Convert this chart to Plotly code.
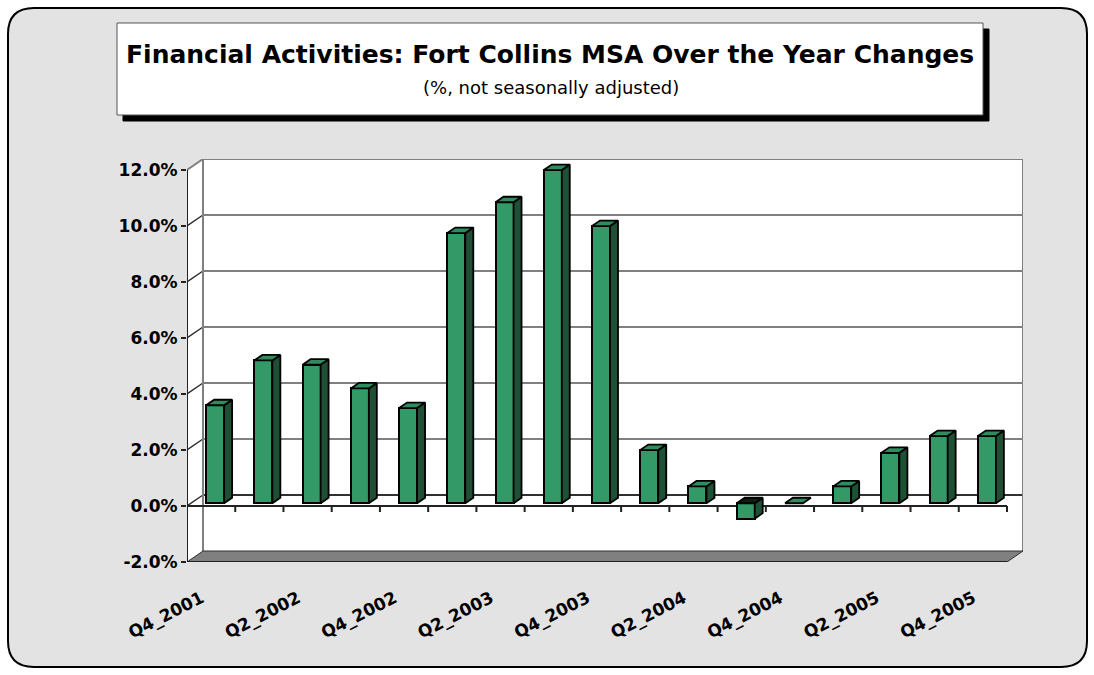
import plotly.graph_objects as go

# Over-the-year change, financial activities employment, Fort Collins MSA
quarters = [
    "Q4_2001", "Q1_2002", "Q2_2002", "Q3_2002", "Q4_2002",
    "Q1_2003", "Q2_2003", "Q3_2003", "Q4_2003",
    "Q1_2004", "Q2_2004", "Q3_2004", "Q4_2004",
    "Q1_2005", "Q2_2005", "Q3_2005", "Q4_2005",
]
pct_change = [3.5, 5.1, 4.95, 4.1, 3.4, 9.65, 10.75, 11.9, 9.9,
              1.9, 0.6, -0.55, 0.0, 0.6, 1.8, 2.4, 2.4]
y_ticks = [-2, 0, 2, 4, 6, 8, 10, 12]
x_labels = quarters[::2]

TITLE = "Financial Activities: Fort Collins MSA Over the Year Changes"
SUBTITLE = "(%, not seasonally adjusted)"

FONT = "DejaVu Sans"
W, H = 1094, 675

# ---- pseudo-3D frame geometry -------------------------------------------
n = len(quarters)
front_w_px = 820.0           # width of the front axis
px_per_cat = front_w_px / n
px_per_pct = 28.0
DX = 16.0 / px_per_cat       # depth of the walls, category units
DY = 11.0 / px_per_pct       # depth of the walls, percent units
x0, x1 = -0.5, n - 0.5       # front axis extent
ymin, ymax = y_ticks[0], y_ticks[-1]

L = 187
T = 159
plot_w = front_w_px + 16
plot_h = (ymax + DY - ymin) * px_per_pct
R = W - L - plot_w
B = H - T - plot_h

# bar placement inside the depth of the box
BAR_W = 18.0 / px_per_cat
D0 = 0.25                    # depth of the front face (fraction of wall depth)
DB = 0.5                     # bar thickness (fraction of wall depth)
bdx, bdy = DB * DX, DB * DY
fx, fy = D0 * DX, D0 * DY

FRONT = "#339966"
SIDE = "#1F4F35"
TOP = "#2F8C5E"
TOP_NEG = "#0B1F14"
GRID = "#808080"
DARK = "#303030"


def px_to_paper(px, py):
    return (px - L) / plot_w, (H - B - py) / plot_h


def poly(points):
    return "M " + " L ".join(f"{x:.4f},{y:.4f}" for x, y in points) + " Z"


def segs(pairs):
    return " ".join(f"M {a:.4f},{b:.4f} L {c:.4f},{d:.4f}" for (a, b), (c, d) in pairs)


shapes = []

# rounded card behind the whole chart
bx0, by0, bx1, by1, rad = 8, 8, 1087, 667, 26
pts = [
    ("M", bx0 + rad, by0), ("L", bx1 - rad, by0), ("Q", bx1, by0, bx1, by0 + rad),
    ("L", bx1, by1 - rad), ("Q", bx1, by1, bx1 - rad, by1),
    ("L", bx0 + rad, by1), ("Q", bx0, by1, bx0, by1 - rad),
    ("L", bx0, by0 + rad), ("Q", bx0, by0, bx0 + rad, by0),
]
path = []
for p in pts:
    cmd = p[0]
    coords = p[1:]
    conv = []
    for k in range(0, len(coords), 2):
        a, b = px_to_paper(coords[k], coords[k + 1])
        conv.append(f"{a:.5f},{b:.5f}")
    path.append(cmd + " " + " ".join(conv))
shapes.append(dict(type="path", xref="paper", yref="paper", layer="below",
                   path=" ".join(path) + " Z", fillcolor="#E3E3E3",
                   line=dict(color="#000000", width=2)))

# title box with drop shadow
tx0, ty0, tx1, ty1 = 117, 23, 983, 115
for off, fill, lc in ((6, "#000000", "#000000"), (0, "#FFFFFF", "#555555")):
    ax, ay = px_to_paper(tx0 + off, ty1 + off)
    bx, by = px_to_paper(tx1 + off, ty0 + off)
    shapes.append(dict(type="rect", xref="paper", yref="paper", layer="below",
                       x0=ax, y0=ay, x1=bx, y1=by, fillcolor=fill,
                       line=dict(color=lc, width=1)))

# white interior of the box (side wall + back wall)
shapes.append(dict(type="path", xref="x", yref="y", layer="below",
                   path=poly([(x0, ymin), (x0, ymax), (x0 + DX, ymax + DY),
                              (x1 + DX, ymax + DY), (x1 + DX, ymin + DY), (x1, ymin)]),
                   fillcolor="#FFFFFF", line=dict(width=0)))

# back-wall gridlines and side-wall diagonals
grid_pairs = [((x0 + DX, v + DY), (x1 + DX, v + DY)) for v in y_ticks if 0 < v < ymax]
shapes.append(dict(type="path", xref="x", yref="y", layer="below",
                   path=segs(grid_pairs), line=dict(color=GRID, width=2)))
shapes.append(dict(type="path", xref="x", yref="y", layer="below",
                   path=segs([((x0 + DX, 0 + DY), (x1 + DX, 0 + DY))]),
                   line=dict(color=DARK, width=2)))
side_pairs = [((x0, v), (x0 + DX, v + DY)) for v in y_ticks if ymin < v < ymax]
shapes.append(dict(type="path", xref="x", yref="y", layer="below",
                   path=segs(side_pairs), line=dict(color=DARK, width=1.5)))

# back wall outline
shapes.append(dict(type="path", xref="x", yref="y", layer="below",
                   path=segs([((x0, ymax), (x0 + DX, ymax + DY)),
                              ((x0 + DX, ymax + DY), (x1 + DX, ymax + DY)),
                              ((x1 + DX, ymax + DY), (x1 + DX, ymin + DY)),
                              ((x0 + DX, ymin + DY), (x0 + DX, ymax + DY))]),
                   line=dict(color=GRID, width=2)))

# floor
shapes.append(dict(type="path", xref="x", yref="y", layer="below",
                   path=poly([(x0, ymin), (x1, ymin), (x1 + DX, ymin + DY), (x0 + DX, ymin + DY)]),
                   fillcolor="#808080", line=dict(color=DARK, width=1)))

# front axis lines with category ticks
tick_len = 6.0 / px_per_pct
bounds = [x0 + k for k in range(1, n + 1)]
front_pairs = [((x0, 0), (x1, 0)), ((x0, ymin), (x1, ymin)), ((x0, ymin), (x0, ymax))]
front_pairs += [((b, 0), (b, -tick_len)) for b in bounds]
front_pairs += [((b, ymin), (b, ymin - tick_len)) for b in bounds]
shapes.append(dict(type="path", xref="x", yref="y", layer="below",
                   path=segs(front_pairs), line=dict(color="#222222", width=2)))

# ---- bars -----------------------------------------------------------------
xc = [i + fx for i in range(n)]
fig = go.Figure()
fig.add_trace(go.Bar(
    x=xc, y=pct_change, base=[fy] * n, width=BAR_W,
    marker=dict(color=FRONT, line=dict(color="#000000", width=2)),
    hoverinfo="skip", showlegend=False,
))

side_x, side_y = [], []
top_x, top_y = [], []
neg_x, neg_y = [], []
for xm, v in zip(xc, pct_change):
    xl, xr = xm - BAR_W / 2, xm + BAR_W / 2
    b, t = fy, fy + v
    if v != 0:
        for px_, py_ in [(xr, b), (xr, t), (xr + bdx, t + bdy), (xr + bdx, b + bdy), (xr, b)]:
            side_x.append(px_)
            side_y.append(py_)
        side_x.append(None)
        side_y.append(None)
    top = max(b, t)
    tx, ty = (neg_x, neg_y) if v < 0 else (top_x, top_y)
    for px_, py_ in [(xl, top), (xr, top), (xr + bdx, top + bdy), (xl + bdx, top + bdy), (xl, top)]:
        tx.append(px_)
        ty.append(py_)
    tx.append(None)
    ty.append(None)

for xs, ys, col in ((side_x, side_y, SIDE), (top_x, top_y, TOP), (neg_x, neg_y, TOP_NEG)):
    fig.add_trace(go.Scatter(
        x=xs, y=ys, mode="lines", fill="toself", fillcolor=col,
        line=dict(color="#000000", width=1.8), hoverinfo="skip", showlegend=False,
    ))

# ---- layout ---------------------------------------------------------------
label_shift = 0.2
fig.update_layout(
    width=W, height=H,
    margin=dict(l=L, r=R, t=T, b=B),
    paper_bgcolor="#FFFFFF",
    plot_bgcolor="rgba(0,0,0,0)",
    shapes=shapes,
    bargap=0,
    xaxis=dict(
        range=[x0, x1 + DX], showgrid=False, zeroline=False, showline=False,
        tickmode="array", tickvals=[i - label_shift for i in range(0, n, 2)],
        ticktext=x_labels, tickangle=-27, ticks="outside", ticklen=19,
        tickcolor="rgba(0,0,0,0)",
        tickfont=dict(family=FONT, size=17, color="#000000", weight="bold"),
        fixedrange=True,
    ),
    yaxis=dict(
        range=[ymin, ymax + DY], showgrid=False, zeroline=False, showline=False,
        tickmode="array", tickvals=y_ticks, ticktext=[f"{v:.1f}%" for v in y_ticks],
        ticks="outside", ticklen=5, tickwidth=1.5, tickcolor="#222222",
        tickfont=dict(family=FONT, size=17, color="#000000", weight="bold"),
        fixedrange=True,
    ),
    annotations=[
        dict(text=TITLE, xref="paper", yref="paper",
             x=px_to_paper(550, 0)[0], y=px_to_paper(0, 54)[1],
             xanchor="center", yanchor="middle", showarrow=False,
             font=dict(family=FONT, size=25, color="#000000", weight="bold")),
        dict(text=SUBTITLE, xref="paper", yref="paper",
             x=px_to_paper(551, 0)[0], y=px_to_paper(0, 87)[1],
             xanchor="center", yanchor="middle", showarrow=False,
             font=dict(family=FONT, size=18, color="#000000")),
    ],
)

fig.write_html("out.html")
